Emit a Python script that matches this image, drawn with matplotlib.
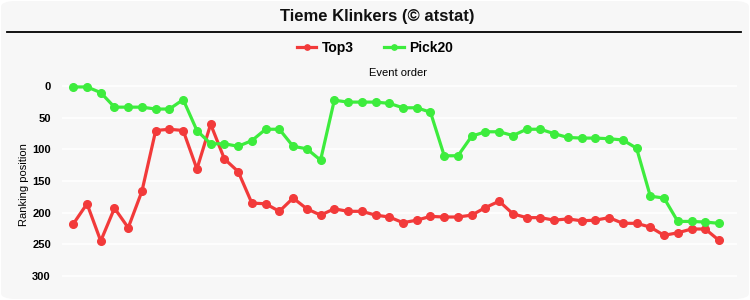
import matplotlib
matplotlib.use("Agg")
import matplotlib.pyplot as plt
from matplotlib.patches import FancyBboxPatch
from matplotlib.lines import Line2D

plt.rcParams['font.family'] = ['Liberation Sans', 'DejaVu Sans']

title = "Tieme Klinkers (© atstat)"
series_names = ["Top3", "Pick20"]
top3 = [218, 186, 245, 193, 224, 166, 70, 68, 70, 131, 60, 115, 135, 185, 186, 198,
        177, 194, 204, 194, 198, 198, 204, 207, 216, 212, 206, 207, 207, 204, 192, 182,
        202, 208, 208, 212, 210, 213, 212, 208, 217, 217, 223, 236, 232, 226, 226, 244]
pick20 = [1, 1, 10, 33, 33, 33, 36, 36, 21, 70, 91, 91, 95, 86, 68, 68,
          95, 99, 117, 22, 25, 25, 25, 27, 34, 34, 41, 110, 110, 79, 72, 72,
          78, 68, 68, 75, 81, 82, 82, 83, 85, 98, 174, 177, 214, 214, 215, 217]
yticks = [0, 50, 100, 150, 200, 250, 300]
colors = ['#f23a3a', '#3dec3d']

W, H = 750, 300
fig = plt.figure(figsize=(7.5, 3.0), dpi=100)
fig.patch.set_facecolor('white')

bg = FancyBboxPatch((1 / W, 1 / H), (W - 2) / W, (H - 2) / H,
                    boxstyle="round,pad=0,rounding_size=0.02",
                    transform=fig.transFigure, facecolor='#f7f7f7',
                    edgecolor='none', zorder=-10)
fig.patches.append(bg)

fig.text(377 / W, 1 - 17 / H, title, ha='center', va='center',
         fontsize=12, fontweight='bold', color='#111111')
fig.add_artist(Line2D([7 / W, 741 / W], [1 - 32 / H, 1 - 32 / H],
                      transform=fig.transFigure, color='black', lw=1.3))

left, right = 62 / W, 737 / W
bottom, top = 1 - 290 / H, 1 - 80 / H
ax = fig.add_axes([left, bottom, right - left, top - bottom])
ax.set_facecolor('none')

x = list(range(1, len(top3) + 1))
for name, vals, c in zip(series_names, [top3, pick20], colors):
    ax.plot(x, vals, color=c, lw=2.3, marker='o', markersize=5.5,
            label=name, solid_joinstyle='round', zorder=3)

ax.set_xlim(0.18, 49.31)
ax.set_ylim(322.6, -10)
ax.set_yticks(yticks)
ax.set_yticklabels([str(v) for v in yticks], fontsize=8, fontweight='bold')
ax.set_xticks([])
ax.tick_params(axis='y', length=0, pad=8)
ax.grid(axis='y', color='white', lw=1.2, zorder=0)
for s in ax.spines.values():
    s.set_visible(False)
ax.set_ylabel("Ranking position", fontsize=8, labelpad=2)

fig.text(398 / W, 1 - 73 / H, "Event order", ha='center', va='center', fontsize=8)

leg = fig.legend(loc='center', bbox_to_anchor=(375 / W, 1 - 48 / H), ncol=2,
                 frameon=False, prop={'weight': 'bold', 'size': 10},
                 handlelength=1.4, columnspacing=2.2, handletextpad=0.4,
                 markerscale=0.7)

fig.savefig("out.png", dpi=100, facecolor=fig.get_facecolor())
